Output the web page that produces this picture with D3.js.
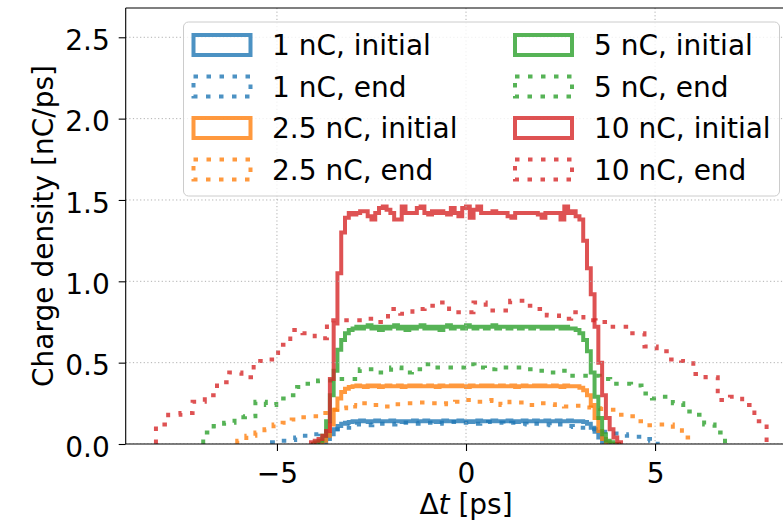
<!DOCTYPE html>
<html>
<head>
<meta charset="utf-8">
<script src="https://cdn.jsdelivr.net/npm/d3@7"></script>
<style>
  body { margin: 0; background: #ffffff; }
  svg { display: block; font-family: "DejaVu Sans", sans-serif; }
</style>
</head>
<body>
<svg id="chart" width="783" height="522"></svg>
<script>
// ---- data -------------------------------------------------------------
const charges = ["1 nC", "2.5 nC", "5 nC", "10 nC"];
const xTicks = [-5, 0, 5];
const yTicks = [0, 0.5, 1.0, 1.5, 2.0, 2.5];
const xLimits = [-9, 9];
const yLimits = [0, 2.68];

// initial bunch profiles: common bins, first edge and bin width in ps
const initialStart = -4.1;
const initialWidth = 0.1;
const q1Initial = [
  0.00, 0.00, 0.005, 0.01, 0.03, 0.06, 0.09, 0.11, 0.125, 0.13,
  0.135, 0.14, 0.14, 0.145, 0.14, 0.135, 0.14, 0.145, 0.14, 0.14,
  0.14, 0.145, 0.14, 0.14, 0.135, 0.14, 0.14, 0.145, 0.14, 0.14,
  0.145, 0.14, 0.14, 0.135, 0.14, 0.145, 0.14, 0.14, 0.14, 0.145,
  0.14, 0.14, 0.135, 0.14, 0.145, 0.14, 0.14, 0.14, 0.145, 0.14,
  0.14, 0.14, 0.145, 0.14, 0.135, 0.14, 0.145, 0.14, 0.14, 0.145,
  0.14, 0.14, 0.145, 0.14, 0.14, 0.145, 0.14, 0.14, 0.145, 0.14,
  0.14, 0.14, 0.135, 0.125, 0.10, 0.075, 0.04, 0.01, 0.00, 0.00,
  0.00, 0.00
];
const q25Initial = [
  0.00, 0.005, 0.01, 0.02, 0.05, 0.12, 0.21, 0.28, 0.32, 0.34,
  0.35, 0.355, 0.36, 0.355, 0.35, 0.36, 0.355, 0.36, 0.35, 0.355,
  0.36, 0.355, 0.355, 0.36, 0.35, 0.355, 0.36, 0.355, 0.36, 0.355,
  0.355, 0.36, 0.355, 0.35, 0.36, 0.355, 0.355, 0.36, 0.355, 0.36,
  0.355, 0.35, 0.36, 0.355, 0.355, 0.36, 0.355, 0.36, 0.355, 0.355,
  0.36, 0.355, 0.355, 0.36, 0.35, 0.355, 0.36, 0.355, 0.355, 0.36,
  0.355, 0.36, 0.355, 0.355, 0.36, 0.355, 0.35, 0.36, 0.355, 0.355,
  0.355, 0.345, 0.33, 0.30, 0.24, 0.16, 0.08, 0.03, 0.01, 0.00,
  0.00, 0.00
];
const q5Initial = [
  0.00, 0.01, 0.02, 0.05, 0.14, 0.30, 0.45, 0.58, 0.64, 0.68,
  0.70, 0.71, 0.72, 0.71, 0.72, 0.73, 0.71, 0.72, 0.70, 0.72,
  0.71, 0.72, 0.73, 0.71, 0.72, 0.70, 0.72, 0.71, 0.72, 0.73,
  0.71, 0.72, 0.71, 0.72, 0.70, 0.72, 0.73, 0.71, 0.72, 0.72,
  0.71, 0.73, 0.72, 0.71, 0.72, 0.72, 0.71, 0.72, 0.73, 0.71,
  0.72, 0.72, 0.71, 0.72, 0.72, 0.71, 0.72, 0.72, 0.71, 0.72,
  0.72, 0.71, 0.72, 0.71, 0.72, 0.72, 0.71, 0.72, 0.71, 0.71,
  0.70, 0.68, 0.64, 0.57, 0.44, 0.29, 0.16, 0.06, 0.02, 0.01,
  0.00, 0.00
];
const q10Initial = [
  0.01, 0.02, 0.03, 0.05, 0.08, 0.40, 0.74, 1.05, 1.30, 1.39,
  1.42, 1.41, 1.42, 1.43, 1.43, 1.40, 1.38, 1.42, 1.45, 1.46,
  1.44, 1.42, 1.38, 1.38, 1.46, 1.42, 1.42, 1.42, 1.45, 1.46,
  1.42, 1.41, 1.43, 1.42, 1.43, 1.42, 1.41, 1.45, 1.42, 1.40,
  1.45, 1.46, 1.39, 1.44, 1.46, 1.42, 1.42, 1.42, 1.43, 1.42,
  1.42, 1.42, 1.40, 1.39, 1.42, 1.42, 1.42, 1.42, 1.42, 1.42,
  1.41, 1.39, 1.42, 1.42, 1.42, 1.42, 1.38, 1.46, 1.42, 1.43,
  1.40, 1.38, 1.25, 1.08, 0.92, 0.72, 0.50, 0.30, 0.16, 0.09,
  0.04, 0.01
];

// profiles at the end: each has its own first edge and bin width in ps
const endStart = [-5.13, -6.05, -6.95, -8.2];
const endWidth = [0.204, 0.24, 0.276, 0.323];
const q1End = [
  0.01, 0.02, 0.025, 0.04, 0.05, 0.06, 0.065, 0.075, 0.09, 0.10,
  0.11, 0.12, 0.115, 0.12, 0.125, 0.12, 0.125, 0.13, 0.125, 0.13,
  0.13, 0.125, 0.13, 0.135, 0.13, 0.13, 0.125, 0.13, 0.135, 0.13,
  0.125, 0.13, 0.125, 0.12, 0.125, 0.12, 0.115, 0.12, 0.11, 0.105,
  0.10, 0.09, 0.085, 0.075, 0.065, 0.06, 0.05, 0.045, 0.03, 0.02
];
const q25End = [
  0.02, 0.05, 0.07, 0.09, 0.12, 0.13, 0.15, 0.165, 0.17, 0.19,
  0.21, 0.22, 0.24, 0.23, 0.25, 0.24, 0.23, 0.245, 0.25, 0.25,
  0.255, 0.25, 0.245, 0.25, 0.26, 0.27, 0.26, 0.265, 0.27, 0.24,
  0.26, 0.255, 0.24, 0.25, 0.245, 0.24, 0.23, 0.235, 0.225, 0.22,
  0.215, 0.21, 0.18, 0.17, 0.14, 0.115, 0.12, 0.12, 0.085, 0.04
];
const q5End = [
  0.07, 0.11, 0.13, 0.165, 0.17, 0.26, 0.24, 0.28, 0.30, 0.35,
  0.37, 0.39, 0.39, 0.40, 0.40, 0.46, 0.46, 0.44, 0.47, 0.44,
  0.46, 0.49, 0.47, 0.47, 0.47, 0.49, 0.47, 0.46, 0.47, 0.47,
  0.47, 0.46, 0.45, 0.44, 0.45, 0.42, 0.42, 0.42, 0.40, 0.37,
  0.37, 0.36, 0.31, 0.28, 0.29, 0.25, 0.20, 0.18, 0.12, 0.07
];
const q10End = [
  0.12, 0.18, 0.19, 0.26, 0.30, 0.38, 0.44, 0.41, 0.51, 0.52,
  0.61, 0.70, 0.68, 0.65, 0.76, 0.76, 0.76, 0.77, 0.75, 0.83,
  0.80, 0.83, 0.85, 0.87, 0.81, 0.81, 0.87, 0.82, 0.82, 0.88,
  0.85, 0.83, 0.79, 0.77, 0.81, 0.76, 0.75, 0.72, 0.72, 0.68,
  0.60, 0.57, 0.52, 0.51, 0.43, 0.41, 0.27, 0.29, 0.24, 0.14
];

const initialProfiles = [q1Initial, q25Initial, q5Initial, q10Initial];
const endProfiles = [q1End, q25End, q5End, q10End];

// ---- styles -------------------------------------------------------------
const colors = ["#1f77b4", "#ff7f0e", "#2ca02c", "#d62728"];
const lineAlpha = 0.8;
const lineWidth = 4;
const dotDash = "4.5,8.5";
const fontSize = 28;

// ---- layout -------------------------------------------------------------
const svg = d3.select("#chart");
const plotLeft = 125.7, plotRight = 806.3, plotTop = 8, plotBottom = 444;

const x = d3.scaleLinear().domain(xLimits).range([plotLeft, plotRight]);
const y = d3.scaleLinear().domain(yLimits).range([plotBottom, plotTop]);

svg.append("defs").append("clipPath").attr("id", "plot-clip")
  .append("rect")
  .attr("x", plotLeft).attr("y", plotTop)
  .attr("width", plotRight - plotLeft).attr("height", plotBottom - plotTop);

// step outline of a histogram, as drawn with histtype="step"
function stepOutline(start, width, values) {
  const pts = [[start, 0]];
  values.forEach((v, i) => {
    pts.push([start + i * width, v]);
    pts.push([start + (i + 1) * width, v]);
  });
  pts.push([start + values.length * width, 0]);
  return pts;
}

const line = d3.line().x(d => x(d[0])).y(d => y(d[1]));

const plot = svg.append("g").attr("clip-path", "url(#plot-clip)");

charges.forEach((c, k) => {
  plot.append("path")
    .attr("d", line(stepOutline(initialStart, initialWidth, initialProfiles[k])))
    .attr("fill", "none")
    .attr("stroke", colors[k])
    .attr("stroke-opacity", lineAlpha)
    .attr("stroke-width", lineWidth)
    .attr("stroke-linejoin", "miter");
  plot.append("path")
    .attr("d", line(stepOutline(endStart[k], endWidth[k], endProfiles[k])))
    .attr("fill", "none")
    .attr("stroke", colors[k])
    .attr("stroke-opacity", lineAlpha)
    .attr("stroke-width", lineWidth)
    .attr("stroke-dasharray", dotDash)
    .attr("stroke-linecap", "butt")
    .attr("stroke-linejoin", "miter");
});

// dotted grid
const grid = svg.append("g").attr("clip-path", "url(#plot-clip)")
  .attr("stroke", "#b0b0b0").attr("stroke-width", 1)
  .attr("stroke-dasharray", "1.2,2.4");
grid.selectAll("line.gx").data(xTicks).join("line")
  .attr("x1", d => x(d)).attr("x2", d => x(d))
  .attr("y1", plotTop).attr("y2", plotBottom);
grid.selectAll("line.gy").data(yTicks).join("line")
  .attr("x1", plotLeft).attr("x2", plotRight)
  .attr("y1", d => y(d)).attr("y2", d => y(d));

// axes
const fmtX = d => (d < 0 ? "\u2212" + Math.abs(d) : String(d));
const xAxis = svg.append("g")
  .attr("transform", `translate(0,${plotBottom})`)
  .call(d3.axisBottom(x).tickValues(xTicks).tickFormat(fmtX).tickSize(7).tickPadding(12));
const yAxis = svg.append("g")
  .attr("transform", `translate(${plotLeft},0)`)
  .call(d3.axisLeft(y).tickValues(yTicks).tickFormat(d3.format(".1f")).tickSize(7).tickPadding(9));

[xAxis, yAxis].forEach(a => {
  a.select(".domain").remove();
  a.selectAll(".tick line").attr("stroke", "#000").attr("stroke-width", 1.1);
  a.selectAll(".tick text")
    .attr("fill", "#000")
    .style("font-size", fontSize + "px")
    .style("font-family", "'DejaVu Sans', sans-serif");
});
yAxis.selectAll(".tick text").attr("dy", "0.43em");

// spines
const spines = svg.append("g").attr("stroke", "#000").attr("stroke-width", 1.1);
spines.append("line").attr("x1", plotLeft).attr("x2", plotLeft).attr("y1", plotTop).attr("y2", plotBottom);
spines.append("line").attr("x1", plotLeft).attr("x2", plotRight).attr("y1", plotBottom).attr("y2", plotBottom);
spines.append("line").attr("x1", plotLeft).attr("x2", plotRight).attr("y1", plotTop).attr("y2", plotTop);
spines.append("line").attr("x1", plotRight).attr("x2", plotRight).attr("y1", plotTop).attr("y2", plotBottom);

// axis titles
const xTitle = svg.append("text")
  .attr("x", (plotLeft + plotRight) / 2).attr("y", 514)
  .attr("text-anchor", "middle")
  .style("font-size", fontSize + "px");
xTitle.append("tspan").text("\u0394");
xTitle.append("tspan").attr("font-style", "italic").text("t");
xTitle.append("tspan").text(" [ps]");

svg.append("text")
  .attr("transform", `translate(52.5,${(plotTop + plotBottom) / 2}) rotate(-90)`)
  .attr("text-anchor", "middle")
  .style("font-size", fontSize + "px")
  .text("Charge density [nC/ps]");

// legend: two columns, initial (solid) and end (dotted) per charge
const legend = svg.append("g");
legend.append("rect")
  .attr("x", 183.5).attr("y", 22).attr("width", 596).attr("height", 174)
  .attr("rx", 5).attr("ry", 5)
  .attr("fill", "#ffffff").attr("fill-opacity", 0.8)
  .attr("stroke", "#cccccc").attr("stroke-width", 1);

const legendEntries = [];
charges.forEach((c, k) => {
  legendEntries.push({ label: c + ", initial", k: k, dotted: false });
  legendEntries.push({ label: c + ", end", k: k, dotted: true });
});
const colHandleX = [193.5, 515];
const colTextX = [272, 594];
const rowCenter = [45, 86.5, 128, 169.5];
legendEntries.forEach((e, i) => {
  const col = Math.floor(i / 4), row = i % 4;
  const r = legend.append("rect")
    .attr("x", colHandleX[col]).attr("y", rowCenter[row] - 10)
    .attr("width", 57).attr("height", 20)
    .attr("fill", "none")
    .attr("stroke", colors[e.k]).attr("stroke-opacity", lineAlpha)
    .attr("stroke-width", lineWidth)
    .attr("stroke-linejoin", "miter");
  if (e.dotted) r.attr("stroke-dasharray", dotDash);
  legend.append("text")
    .attr("x", colTextX[col]).attr("y", rowCenter[row] + 10)
    .style("font-size", fontSize + "px")
    .text(e.label);
});
</script>
</body>
</html>
